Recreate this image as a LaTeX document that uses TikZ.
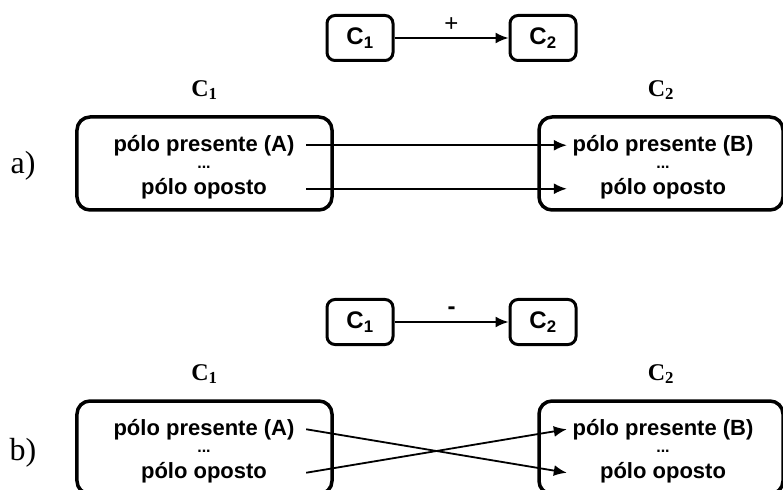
\documentclass[tikz,border=0pt]{standalone}
\usepackage{fontspec}
\setmainfont{Liberation Serif}
\setsansfont{Liberation Sans}
\usepackage{tikz}
\usetikzlibrary{arrows.meta,positioning}
\newcommand{\polefont}{\sffamily\bfseries\fontsize{22bp}{26bp}\selectfont}
\newcommand{\dotsfont}{\sffamily\bfseries\fontsize{16bp}{18bp}\selectfont}
\newcommand{\conceptfont}{\sffamily\bfseries\fontsize{24bp}{28bp}\selectfont}
\newcommand{\tagfont}{\rmfamily\bfseries\fontsize{24bp}{28bp}\selectfont}
\newcommand{\casefont}{\rmfamily\fontsize{32bp}{36bp}\selectfont}

\begin{document}
\begin{tikzpicture}[
  x=1bp,y=-1bp,
  >={Latex[length=13bp,width=11bp]},
  pole/.style={draw,line width=3.5bp,rounded corners=13bp,minimum height=93bp},
  conc/.style={draw,line width=3bp,rounded corners=8bp,minimum width=66bp,
               minimum height=45bp,font=\conceptfont},
  entry/.style={font=\polefont,inner sep=0pt,minimum width=#1},
  gap/.style={font=\dotsfont,inner sep=0pt,minimum height=22bp,minimum width=#1},
  tag/.style={font=\tagfont},
  flow/.style={->,line width=1.8bp}
]
\clip (0,0) rectangle (783,490);

% a) positive link
\node[conc] (ta1) at (360,38) {C\textsubscript{1}};
\node[conc] (ta2) at (543,38) {C\textsubscript{2}};
\draw[flow] (ta1) -- node[above=2bp,font=\sffamily\fontsize{24bp}{28bp}\selectfont]{+} (ta2);

\node[pole,minimum width=255bp] (a1) at (204.5,163.5) {};
\node[pole,minimum width=244bp] (a2) at (661,163.5) {};
\node[tag,above=12bp of a1] (a1name) {C\textsubscript{1}};
\node[tag,above=12bp of a2] (a2name) {C\textsubscript{2}};

\node[gap=204bp] (a1dots) at (204,167) {...};
\node[entry=204bp,above=0bp of a1dots] (a1top) {pólo presente (A)};
\node[entry=204bp,below=0bp of a1dots] (a1bot) {pólo oposto};
\node[gap=192bp] (a2dots) at (663,167) {...};
\node[entry=192bp,above=0bp of a2dots] (a2top) {pólo presente (B)};
\node[entry=192bp,below=0bp of a2dots] (a2bot) {pólo oposto};

\draw[flow] (a1top.east) -- (a2top.west);
\draw[flow] (a1bot.east) -- (a2bot.west);
\node[font=\casefont] (casea) at (23,166) {a)};

% b) negative link
\node[conc] (tb1) at (360,322) {C\textsubscript{1}};
\node[conc] (tb2) at (543,322) {C\textsubscript{2}};
\draw[flow] (tb1) -- node[above=3bp,font=\conceptfont]{-} (tb2);

\node[pole,minimum width=255bp] (b1) at (204.5,447.5) {};
\node[pole,minimum width=244bp] (b2) at (661,447.5) {};
\node[tag,above=12bp of b1] (b1name) {C\textsubscript{1}};
\node[tag,above=12bp of b2] (b2name) {C\textsubscript{2}};

\node[gap=204bp] (b1dots) at (204,451) {...};
\node[entry=204bp,above=0bp of b1dots] (b1top) {pólo presente (A)};
\node[entry=204bp,below=0bp of b1dots] (b1bot) {pólo oposto};
\node[gap=192bp] (b2dots) at (663,451) {...};
\node[entry=192bp,above=0bp of b2dots] (b2top) {pólo presente (B)};
\node[entry=192bp,below=0bp of b2dots] (b2bot) {pólo oposto};

\draw[flow] (b1top.east) -- (b2bot.west);
\draw[flow] (b1bot.east) -- (b2top.west);
\node[font=\casefont] (caseb) at (23,453) {b)};
\end{tikzpicture}
\end{document}
